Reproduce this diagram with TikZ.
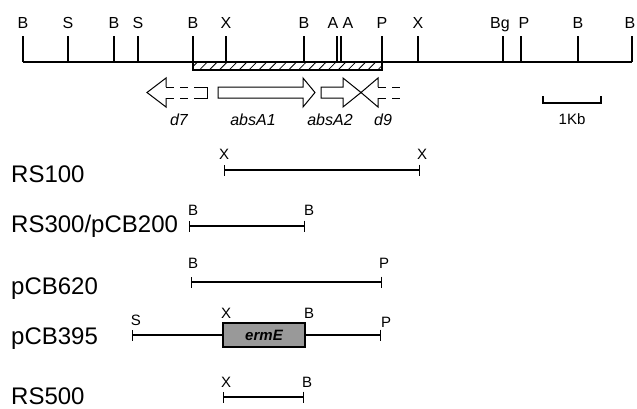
\documentclass[tikz,border=0pt]{standalone}
\usepackage{fontspec}
\setmainfont{Liberation Sans}
\usetikzlibrary{arrows.meta,patterns.meta}

\begin{document}
\begin{tikzpicture}[x=1pt,y=-1pt,
    site/.style={font=\fontsize{16}{16}\selectfont, anchor=base, inner sep=0pt},
    fsite/.style={font=\fontsize{15}{15}\selectfont, anchor=base, inner sep=0pt},
    frag/.style={font=\fontsize{24}{24}\selectfont, anchor=base west, inner sep=0pt},
    gene/.style={font=\fontsize{16}{16}\selectfont\itshape, anchor=base, inner sep=0pt},
    seg/.style={line width=1.1pt, {Bar[width=11pt]}-{Bar[width=11pt]}},
    orf/.style={line width=1pt, line join=miter},
    orfdash/.style={line width=1pt, dash pattern=on 8pt off 6pt}]
  \useasboundingbox (0,0) rectangle (637,408);

  % Restriction map of the chromosome
  \draw[line width=1.3pt] (23,62) -- (632,62);
  \foreach \x/\lx/\l in {23/23/B, 68/68/S, 114/114/B, 138/138/S, 193/193/B,
                         226/226/X, 304/304/B, 337/333/A, 341/348/A, 382/382/P,
                         418/418/X, 503/500/Bg, 521/524/P, 578/578/B, 632/630/B} {
    \draw[line width=1.1pt] (\x,36) -- (\x,62);
    \node[site] (site\x) at (\lx,28) {\l};
  }

  % Hatched region
  \fill[pattern={Lines[angle=45,distance=7pt,line width=0.8pt]}] (193,62) rectangle (382,70);
  \draw[line width=1.1pt] (193,62) rectangle (382,70);

  % Open reading frames
  \draw[orf] (166,87) -- (166,78) -- (147,92.5) -- (166,107) -- (166,98);
  \draw[orfdash] (166,87) -- (200,87) (166,98) -- (200,98);
  \draw[orf] (200,87) -- (207,87) -- (207,98) -- (200,98);
  \draw[orf] (303,87) -- (218,87) -- (218,98) -- (303,98) -- (303,107)
             -- (315,92.5) -- (303,78) -- cycle;
  \draw[orf] (343,87) -- (321,87) -- (321,98) -- (343,98) -- (343,107)
             -- (361,92.5) -- (343,78) -- cycle;
  \draw[orf] (378,87) -- (378,78) -- (361,92.5) -- (378,107) -- (378,98);
  \draw[orfdash] (378,87) -- (404,87) (378,98) -- (404,98);
  \node[gene] (d7) at (179,125) {d7};
  \node[gene] (absA1) at (253,125) {absA1};
  \node[gene] (absA2) at (330,125) {absA2};
  \node[gene] (d9) at (383,125) {d9};

  % Scale bar
  \draw[line width=1.1pt] (543,96) -- (543,103) -- (601,103) -- (601,96);
  \node[fsite] (kb) at (572,124) {1Kb};

  % Subclones
  \node[frag] (rs100) at (11,182) {RS100};
  \coordinate (rs100a) at (224,170);
  \coordinate (rs100b) at (420,170);
  \draw[seg] (rs100a) -- (rs100b);
  \node[fsite] (rs100x1) at (224,159) {X};
  \node[fsite] (rs100x2) at (422,159) {X};

  \node[frag] (rs300) at (11,232) {RS300/pCB200};
  \coordinate (rs300a) at (189,226);
  \coordinate (rs300b) at (305,226);
  \draw[seg] (rs300a) -- (rs300b);
  \node[fsite] (rs300b1) at (193,215) {B};
  \node[fsite] (rs300b2) at (309,215) {B};

  \node[frag] (pcb620) at (11,294) {pCB620};
  \coordinate (pcb620a) at (191,282);
  \coordinate (pcb620b) at (382,282);
  \draw[seg] (pcb620a) -- (pcb620b);
  \node[fsite] (pcb620b1) at (193,268) {B};
  \node[fsite] (pcb620p) at (384,268) {P};

  \node[frag] (pcb395) at (11,344) {pCB395};
  \coordinate (pcb395a) at (132,335);
  \coordinate (pcb395b) at (381,335);
  \draw[seg] (pcb395a) -- (pcb395b);
  \node[draw, line width=1.1pt, fill=black!40, minimum width=82pt, minimum height=24pt,
        inner sep=0pt, font=\fontsize{15}{15}\selectfont\bfseries\itshape] (ermE) at (264,335) {ermE};
  \node[fsite] (pcb395s) at (136,325) {S};
  \node[fsite] (pcb395x) at (226,318) {X};
  \node[fsite] (pcb395b1) at (309,318) {B};
  \node[fsite] (pcb395p) at (386,327) {P};

  \node[frag] (rs500) at (11,404) {RS500};
  \coordinate (rs500a) at (223,397);
  \coordinate (rs500b) at (304,397);
  \draw[seg] (rs500a) -- (rs500b);
  \node[fsite] (rs500x) at (226,387) {X};
  \node[fsite] (rs500b1) at (307,387) {B};
\end{tikzpicture}
\end{document}
